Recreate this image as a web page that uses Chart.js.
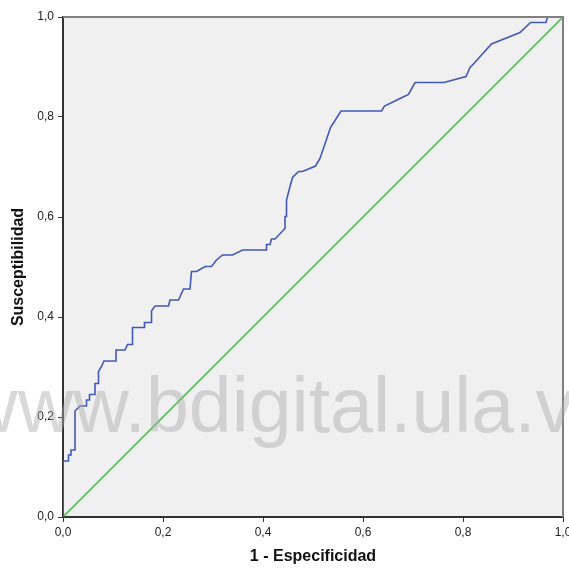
<!DOCTYPE html>
<html>
<head>
<meta charset="utf-8">
<script src="https://cdn.jsdelivr.net/npm/chart.js@4.4.1/dist/chart.umd.min.js"></script>
<style>
  html, body { margin: 0; padding: 0; background: #ffffff; }
  #wrap { width: 569px; height: 569px; }
</style>
</head>
<body>
<div id="wrap"><canvas id="roc" width="569" height="569"></canvas></div>
<script>
// ROC curve: 1 - specificity (x) vs. sensitivity (y)
const fpr = [0, 0, 0.011, 0.011, 0.016, 0.016, 0.024, 0.024, 0.034, 0.047, 0.047, 0.053, 0.053,
  0.064, 0.064, 0.071, 0.071, 0.077, 0.082, 0.106, 0.106, 0.124, 0.129, 0.139, 0.139, 0.163,
  0.163, 0.177, 0.177, 0.184, 0.211, 0.214, 0.231, 0.241, 0.254, 0.257, 0.267, 0.284, 0.297,
  0.307, 0.319, 0.339, 0.359, 0.406, 0.407, 0.414, 0.417, 0.424, 0.444, 0.444, 0.447, 0.447,
  0.453, 0.459, 0.471, 0.479, 0.505, 0.514, 0.535, 0.556, 0.637, 0.643, 0.674, 0.691, 0.704,
  0.762, 0.806, 0.814, 0.819, 0.857, 0.914, 0.935, 0.966, 0.969, 1.0];
const tpr = [0, 0.112, 0.112, 0.124, 0.124, 0.134, 0.134, 0.212, 0.222, 0.222, 0.234, 0.234, 0.245,
  0.245, 0.267, 0.267, 0.291, 0.301, 0.312, 0.312, 0.334, 0.334, 0.345, 0.345, 0.379, 0.379,
  0.389, 0.389, 0.412, 0.422, 0.422, 0.434, 0.434, 0.456, 0.456, 0.491, 0.491, 0.501, 0.501,
  0.514, 0.524, 0.524, 0.534, 0.534, 0.545, 0.545, 0.556, 0.556, 0.577, 0.601, 0.601, 0.634,
  0.657, 0.679, 0.691, 0.691, 0.702, 0.717, 0.779, 0.812, 0.812, 0.822, 0.837, 0.845, 0.869,
  0.869, 0.881, 0.899, 0.904, 0.946, 0.969, 0.989, 0.989, 1.0, 1.0];

// Chance (reference) diagonal
const refX = [0, 1];
const refY = [0, 1];

// Axis ticks
const axisTicks = [0, 0.2, 0.4, 0.6, 0.8, 1.0];
const xTitle = '1 - Especificidad';
const yTitle = 'Susceptibilidad';
const watermark = 'www.bdigital.ula.ve';

const toPoints = (xs, ys) => xs.map((x, i) => ({ x: x, y: ys[i] }));
const fmt = v => Number(v).toFixed(1).replace('.', ',');

const plotBackground = {
  id: 'plotBackground',
  beforeDraw(chart) {
    const { ctx, chartArea: a } = chart;
    ctx.save();
    ctx.fillStyle = '#f0f0f0';
    ctx.fillRect(a.left, a.top, a.right - a.left, a.bottom - a.top);
    ctx.restore();
  },
  afterDatasetsDraw(chart) {
    const { ctx, chartArea: a } = chart;
    ctx.save();
    ctx.strokeStyle = '#808080';
    ctx.lineWidth = 2;
    ctx.beginPath();
    ctx.moveTo(a.left, a.top);
    ctx.lineTo(a.right, a.top);
    ctx.lineTo(a.right, a.bottom);
    ctx.stroke();
    ctx.restore();
  }
};

const stamp = {
  id: 'stamp',
  afterDraw(chart) {
    const ctx = chart.ctx;
    ctx.save();
    ctx.font = '77px "Liberation Sans", Arial, sans-serif';
    ctx.fillStyle = 'rgba(170,170,170,0.45)';
    ctx.textBaseline = 'alphabetic';
    const lead = ctx.measureText('www.').width;
    ctx.fillText(watermark, 146 - lead, 432);
    ctx.restore();
  }
};

const tickFont = { family: '"Liberation Sans", Arial, sans-serif', size: 12 };
const titleFont = { family: '"Liberation Sans", Arial, sans-serif', size: 16, weight: 'bold' };

new Chart(document.getElementById('roc'), {
  type: 'scatter',
  data: {
    datasets: [
      {
        label: 'Curva COR',
        data: toPoints(fpr, tpr),
        showLine: true,
        borderColor: '#4259b5',
        borderWidth: 1.6,
        pointRadius: 0,
        tension: 0,
        fill: false,
        order: 1
      },
      {
        label: 'Línea de referencia',
        data: toPoints(refX, refY),
        showLine: true,
        borderColor: '#55c05a',
        borderWidth: 1.6,
        pointRadius: 0,
        tension: 0,
        fill: false,
        order: 2
      }
    ]
  },
  options: {
    responsive: false,
    animation: false,
    devicePixelRatio: 1,
    layout: { padding: { top: 17, right: 6, left: 0, bottom: 0 } },
    plugins: {
      legend: { display: false },
      tooltip: { enabled: false }
    },
    scales: {
      x: {
        type: 'linear',
        min: 0,
        max: 1,
        afterBuildTicks: s => { s.ticks = axisTicks.map(v => ({ value: v })); },
        afterFit: s => { s.height = 52; s.paddingLeft = 0; s.paddingRight = 0; },
        ticks: {
          callback: fmt,
          font: tickFont,
          color: '#222',
          padding: 3,
          maxRotation: 0,
          autoSkip: false
        },
        grid: {
          display: true,
          drawOnChartArea: false,
          drawTicks: true,
          tickLength: 5,
          color: '#333',
          lineWidth: 1
        },
        border: { display: true, color: '#333', width: 2 },
        title: {
          display: true,
          text: xTitle,
          font: titleFont,
          color: '#111',
          padding: { top: 0, bottom: 3 }
        }
      },
      y: {
        type: 'linear',
        min: 0,
        max: 1,
        afterBuildTicks: s => { s.ticks = axisTicks.map(v => ({ value: v })); },
        afterFit: s => { s.width = 63; s.paddingTop = 0; s.paddingBottom = 0; },
        ticks: {
          callback: fmt,
          font: tickFont,
          color: '#222',
          padding: 4,
          autoSkip: false
        },
        grid: {
          display: true,
          drawOnChartArea: false,
          drawTicks: true,
          tickLength: 5,
          color: '#333',
          lineWidth: 1
        },
        border: { display: true, color: '#333', width: 2 },
        title: {
          display: true,
          text: yTitle,
          font: titleFont,
          color: '#111',
          padding: { top: 9, bottom: 0 }
        }
      }
    }
  },
  plugins: [plotBackground, stamp]
});
</script>
</body>
</html>
